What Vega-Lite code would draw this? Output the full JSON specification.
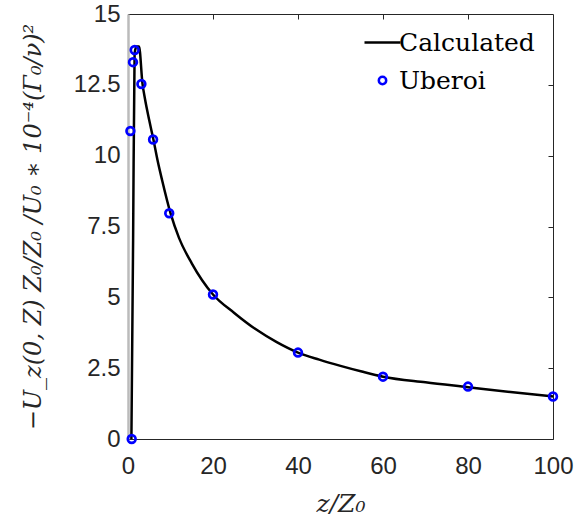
{
  "$schema": "https://vega.github.io/schema/vega-lite/v6.json",
  "width": 425,
  "height": 425,
  "autosize": "none",
  "padding": {"left": 128, "top": 14, "right": 26, "bottom": 88},
  "background": "white",
  "config": {
    "view": {"stroke": "#262626", "strokeWidth": 1},
    "axis": {
      "grid": false,
      "labelFont": "Liberation Sans",
      "labelFontSize": 24,
      "labelColor": "#262626",
      "labelFlush": false,
      "labelOverlap": false,
      "ticks": true,
      "tickColor": "#262626",
      "tickWidth": 1,
      "domainColor": "#262626",
      "titleFont": "DejaVu Serif",
      "titleFontStyle": "italic",
      "titleFontWeight": "normal",
      "titleColor": "#262626"
    }
  },
  "layer": [
    {
      "data": {
        "values": [
          {"z": 0.8, "v": 0, "series": "Calculated"},
          {"z": 1.2, "v": 7.0, "series": "Calculated"},
          {"z": 1.55, "v": 13.6, "series": "Calculated"},
          {"z": 2.0, "v": 13.85, "series": "Calculated"},
          {"z": 2.6, "v": 13.85, "series": "Calculated"},
          {"z": 3.4, "v": 12.55, "series": "Calculated"},
          {"z": 4, "v": 12.0, "series": "Calculated"},
          {"z": 5, "v": 11.25, "series": "Calculated"},
          {"z": 6, "v": 10.55, "series": "Calculated"},
          {"z": 7, "v": 9.8, "series": "Calculated"},
          {"z": 8, "v": 9.15, "series": "Calculated"},
          {"z": 10, "v": 7.97, "series": "Calculated"},
          {"z": 12, "v": 7.1, "series": "Calculated"},
          {"z": 15, "v": 6.2, "series": "Calculated"},
          {"z": 20, "v": 5.1, "series": "Calculated"},
          {"z": 25, "v": 4.45, "series": "Calculated"},
          {"z": 30, "v": 3.88, "series": "Calculated"},
          {"z": 35, "v": 3.42, "series": "Calculated"},
          {"z": 40, "v": 3.05, "series": "Calculated"},
          {"z": 45, "v": 2.8, "series": "Calculated"},
          {"z": 50, "v": 2.58, "series": "Calculated"},
          {"z": 55, "v": 2.38, "series": "Calculated"},
          {"z": 60, "v": 2.2, "series": "Calculated"},
          {"z": 70, "v": 2.0, "series": "Calculated"},
          {"z": 80, "v": 1.83, "series": "Calculated"},
          {"z": 90, "v": 1.66, "series": "Calculated"},
          {"z": 100, "v": 1.5, "series": "Calculated"}
        ]
      },
      "mark": {"type": "line", "strokeWidth": 2.5, "interpolate": "monotone"},
      "encoding": {
        "x": {"field": "z", "type": "quantitative", "scale": {"domain": [0, 100], "nice": false},
              "axis": {"orient": "top", "labels": false, "title": null, "domain": false, "offset": -5, "tickSize": 5, "values": [20, 40, 60, 80]}},
        "y": {"field": "v", "type": "quantitative", "scale": {"domain": [0, 15], "nice": false},
              "axis": {"orient": "right", "labels": false, "title": null, "domain": false, "offset": -5, "tickSize": 5, "values": [2.5, 5, 7.5, 10, 12.5]}},
        "color": {
          "field": "series", "type": "nominal",
          "scale": {"domain": ["Calculated", "Uberoi"], "range": ["black", "blue"]},
          "legend": {
            "title": null,
            "orient": "none",
            "legendX": 242,
            "legendY": 16,
            "padding": 0,
            "rowPadding": 12,
            "labelFont": "DejaVu Serif",
            "labelFontSize": 25,
            "labelColor": "black",
            "labelOffset": 4,
            "symbolSize": 1296,
            "encode": {
              "symbols": {
                "update": {
                  "shape": {"signal": "datum.value === 'Calculated' ? 'stroke' : 'circle'"},
                  "size": {"signal": "datum.value === 'Calculated' ? 1296 : 55"},
                  "strokeWidth": {"value": 2.5},
                  "fill": {"value": "transparent"},
                  "stroke": {"signal": "datum.value === 'Calculated' ? 'black' : 'blue'"}
                }
              }
            }
          }
        }
      }
    },
    {
      "data": {
        "values": [
          {"z": 0.87, "v": 0, "series": "Uberoi"},
          {"z": 0.56, "v": 10.87, "series": "Uberoi"},
          {"z": 1.18, "v": 13.3, "series": "Uberoi"},
          {"z": 1.57, "v": 13.73, "series": "Uberoi"},
          {"z": 3.15, "v": 12.53, "series": "Uberoi"},
          {"z": 5.9, "v": 10.57, "series": "Uberoi"},
          {"z": 9.7, "v": 7.97, "series": "Uberoi"},
          {"z": 20, "v": 5.1, "series": "Uberoi"},
          {"z": 40, "v": 3.05, "series": "Uberoi"},
          {"z": 60, "v": 2.2, "series": "Uberoi"},
          {"z": 80, "v": 1.85, "series": "Uberoi"},
          {"z": 100, "v": 1.5, "series": "Uberoi"}
        ]
      },
      "mark": {"type": "point", "filled": false, "strokeWidth": 2.7, "size": 60, "opacity": 1},
      "encoding": {
        "x": {"field": "z", "type": "quantitative", "scale": {"domain": [0, 100], "nice": false},
              "axis": {"orient": "bottom", "title": "z/Z₀", "titleFontSize": 25, "titlePadding": 13, "labelPadding": 15, "ticks": false, "values": [0, 20, 40, 60, 80, 100]}},
        "y": {"field": "v", "type": "quantitative", "scale": {"domain": [0, 15], "nice": false},
              "axis": {"orient": "left", "title": "−U_z(0, Z) Z₀/Z₀ /U₀ ∗ 10⁻⁴(Γ₀/ν)²", "titleFontSize": 24, "titlePadding": 28, "labelPadding": 8, "ticks": false, "values": [0, 2.5, 5, 7.5, 10, 12.5, 15], "labelExpr": "datum.value", "domainColor": "#bbbbbb", "domainWidth": 2.5}},
        "color": {"field": "series", "type": "nominal"}
      }
    }
  ]
}
